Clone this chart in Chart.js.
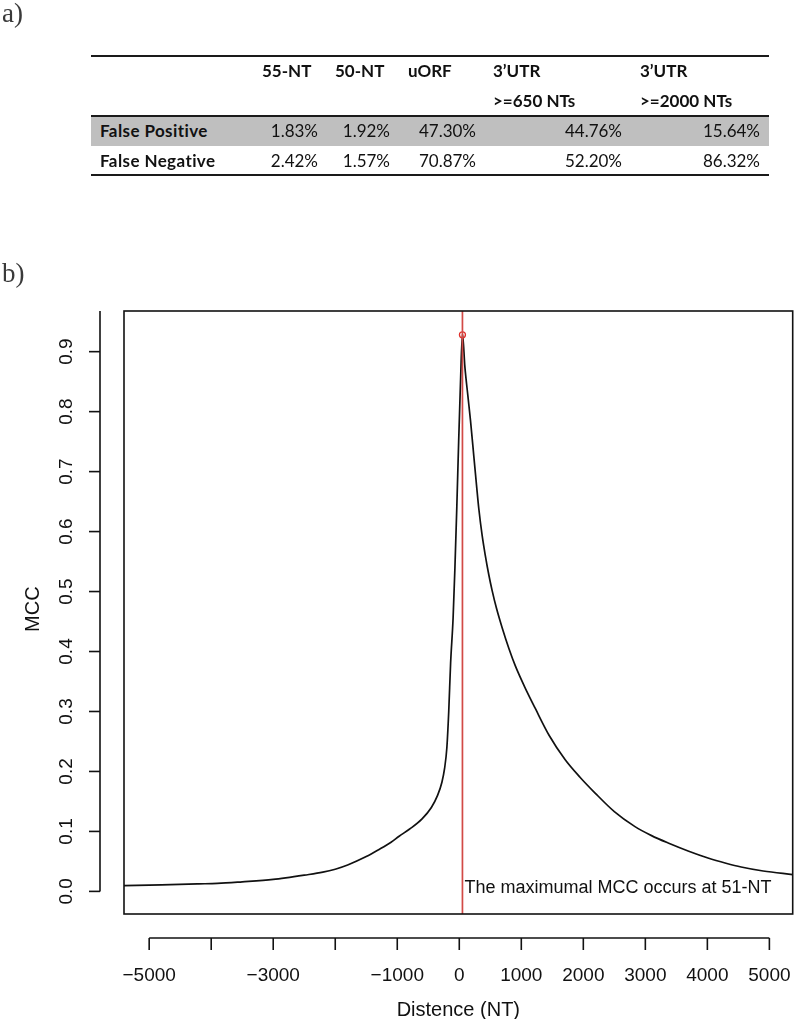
<!DOCTYPE html>
<html>
<head>
<meta charset="utf-8">
<script src="https://cdn.jsdelivr.net/npm/chart.js@4.4.1/dist/chart.umd.min.js"></script>
<style>
  html, body { margin:0; padding:0; background:#fff; }
  body { width:798px; height:1019px; position:relative; overflow:hidden; }
  #c { position:absolute; left:0; top:0; }
  .panel { position:absolute; font-family:"Liberation Serif", serif; font-size:27px; line-height:28px; color:#3a3a3a; }
  .t { position:absolute; font-family:Lato, "Open Sans", sans-serif; font-size:17px; line-height:20px; color:#111; white-space:nowrap; }
  .b { font-weight:bold; }
  .lbl { letter-spacing:0.4px; }
  .rule { position:absolute; left:91px; width:678px; height:2px; background:#1a1a1a; }
  .shade { position:absolute; left:91px; width:678px; background:#bfbfbf; }
</style>
</head>
<body>
<canvas id="c" width="798" height="1019"></canvas>
<div class="panel" style="left:2px; top:-1px;">a)</div>
<div class="panel" style="left:2px; top:259px;">b)</div>
<div id="table"></div>
<script>
// ---------- Table data (panel a) ----------
const tableHeader1 = ["55-NT", "50-NT", "uORF", "3\u2019UTR", "3\u2019UTR"];
const tableHeader2 = ["", "", "", ">=650 NTs", ">=2000 NTs"];
const rowLabels = ["False Positive", "False Negative"];
const falsePositive = ["1.83%", "1.92%", "47.30%", "44.76%", "15.64%"];
const falseNegative = ["2.42%", "1.57%", "70.87%", "52.20%", "86.32%"];

// ---------- Curve data (panel b) ----------
const distance = [-5406, -4800, -4200, -3900, -3500, -3000, -2800, -2500, -2200, -2000,
  -1800, -1500, -1300, -1100, -970, -800, -600, -450, -350, -280, -237, -200, -170, -140,
  -100, -70, -40, -10, 20, 51, 90, 140, 181, 235, 280, 315, 368, 420, 476, 529, 600, 690, 800, 904, 1050,
  1226, 1450, 1708, 1950, 2190, 2500, 2833, 3100, 3368, 3700, 4010, 4300, 4545, 4900, 5376];
const mcc = [0.0097, 0.011, 0.0125, 0.0133, 0.016, 0.020, 0.0225, 0.027, 0.032, 0.037,
  0.044, 0.058, 0.0695, 0.082, 0.092, 0.104, 0.121, 0.140, 0.160, 0.182, 0.205, 0.24, 0.30, 0.38,
  0.455, 0.54, 0.64, 0.75, 0.85, 0.93, 0.875, 0.825, 0.785, 0.725, 0.675, 0.638, 0.594, 0.56, 0.528, 0.502, 0.472, 0.440, 0.405, 0.376, 0.342,
  0.305, 0.260, 0.2195, 0.19, 0.164, 0.133, 0.108, 0.093, 0.0807, 0.067, 0.0557, 0.047, 0.0407, 0.034, 0.028];
const peakDistance = [51];
const peakMcc = [0.928];
const xTickValues = [-5000, -4000, -3000, -2000, -1000, 0, 1000, 2000, 3000, 4000, 5000];
const xTickLabels = ["\u22125000", "", "\u22123000", "", "\u22121000", "0", "1000", "2000", "3000", "4000", "5000"];
const yTickValues = [0, 0.1, 0.2, 0.3, 0.4, 0.5, 0.6, 0.7, 0.8, 0.9];
const yTickLabels = ["0.0", "0.1", "0.2", "0.3", "0.4", "0.5", "0.6", "0.7", "0.8", "0.9"];
const xTitle = "Distence (NT)";
const yTitle = "MCC";
const annotation = "The maximumal MCC occurs at 51-NT";

// ---------- Build table ----------
(function buildTable() {
  const host = document.getElementById('table');
  const add = (html) => host.insertAdjacentHTML('beforeend', html);
  add('<div class="shade" style="top:116px;height:30px;"></div>');
  add('<div class="rule" style="top:55px;"></div>');
  add('<div class="rule" style="top:115px;"></div>');
  add('<div class="rule" style="top:174px;"></div>');
  const headLeft = [262, 335, 408, 493, 640];
  const valRight = [318, 390, 476, 622, 760];
  const base = 16.6; // baseline offset inside line box
  const rowBase = [78, 108, 137.5, 168];
  tableHeader1.forEach((h, i) => add(`<div class="t b" style="left:${headLeft[i]}px;top:${rowBase[0]-base}px;">${h}</div>`));
  tableHeader2.forEach((h, i) => { if (h) add(`<div class="t b" style="left:${headLeft[i]}px;top:${rowBase[1]-base}px;">${h.replace('>', '&gt;')}</div>`); });
  [falsePositive, falseNegative].forEach((row, r) => {
    add(`<div class="t b lbl" style="left:100px;top:${rowBase[2+r]-base}px;">${rowLabels[r]}</div>`);
    row.forEach((v, i) => add(`<div class="t" style="right:${798-valRight[i]}px;top:${rowBase[2+r]-base}px;text-align:right;">${v}</div>`));
  });
})();

// ---------- Chart ----------
const axisFont = '"Liberation Sans", Arial, sans-serif';
const frame = {
  id: 'rframe',
  afterDatasetsDraw(chart) {
    const { ctx, chartArea: a, scales: { x } } = chart;
    const px = x.getPixelForValue(peakDistance[0]);
    ctx.save();
    ctx.strokeStyle = '#d24a46';
    ctx.lineWidth = 1.7;
    ctx.beginPath(); ctx.moveTo(px, a.top); ctx.lineTo(px, a.bottom); ctx.stroke();
    ctx.restore();
  },
  afterDraw(chart) {
    const { ctx, chartArea: a, scales: { x, y } } = chart;
    ctx.save();
    ctx.strokeStyle = '#111';
    ctx.fillStyle = '#111';
    ctx.lineWidth = 1.6;
    ctx.strokeRect(a.left, a.top, a.right - a.left, a.bottom - a.top);

    // y axis (offset left)
    const yx = a.left - 24;
    ctx.beginPath();
    ctx.moveTo(yx, y.getPixelForValue(yTickValues[0]));
    ctx.lineTo(yx, a.top);
    ctx.stroke();
    ctx.font = `19px ${axisFont}`;
    ctx.textAlign = 'center';
    ctx.textBaseline = 'alphabetic';
    yTickValues.forEach((v, i) => {
      const py = y.getPixelForValue(v);
      ctx.beginPath(); ctx.moveTo(yx - 11, py); ctx.lineTo(yx, py); ctx.stroke();
      ctx.save();
      ctx.translate(yx - 28, py);
      ctx.rotate(-Math.PI / 2);
      ctx.fillText(yTickLabels[i], 0, 0);
      ctx.restore();
    });

    // x axis (offset below)
    const xy = a.bottom + 24;
    ctx.beginPath();
    ctx.moveTo(x.getPixelForValue(xTickValues[0]), xy);
    ctx.lineTo(x.getPixelForValue(xTickValues[xTickValues.length - 1]), xy);
    ctx.stroke();
    xTickValues.forEach((v, i) => {
      const p = x.getPixelForValue(v);
      ctx.beginPath(); ctx.moveTo(p, xy); ctx.lineTo(p, xy + 12); ctx.stroke();
      if (xTickLabels[i]) ctx.fillText(xTickLabels[i], p, xy + 42.5);
    });

    // titles
    ctx.font = `20px ${axisFont}`;
    ctx.fillText(xTitle, (a.left + a.right) / 2, xy + 78);
    ctx.save();
    ctx.translate(38.5, (a.top + y.getPixelForValue(0)) / 2 + 8);
    ctx.rotate(-Math.PI / 2);
    ctx.fillText(yTitle, 0, 0);
    ctx.restore();

    // annotation
    ctx.font = `18px ${axisFont}`;
    ctx.textAlign = 'left';
    ctx.fillText(annotation, x.getPixelForValue(peakDistance[0]) + 2, y.getPixelForValue(0) + 1.5);
    ctx.restore();
  }
};

new Chart(document.getElementById('c'), {
  type: 'line',
  data: {
    datasets: [
      {
        data: distance.map((d, i) => ({ x: d, y: mcc[i] })),
        borderColor: '#111',
        borderWidth: 1.7,
        pointRadius: 0,
        cubicInterpolationMode: 'monotone',
        fill: false,
        order: 2
      },
      {
        data: peakDistance.map((d, i) => ({ x: d, y: peakMcc[i] })),
        showLine: false,
        pointRadius: 3,
        pointBorderWidth: 1.3,
        pointBorderColor: '#e0302c',
        pointBackgroundColor: 'rgba(0,0,0,0)',
        order: 1
      }
    ]
  },
  options: {
    responsive: false,
    maintainAspectRatio: false,
    animation: false,
    events: [],
    layout: { padding: { left: 124, top: 311, right: 3, bottom: 105 } },
    plugins: { legend: { display: false }, tooltip: { enabled: false } },
    scales: {
      x: { type: 'linear', min: -5406, max: 5376, display: false },
      y: { type: 'linear', min: -0.0377, max: 0.9678, display: false }
    }
  },
  plugins: [frame]
});
</script>
</body>
</html>
